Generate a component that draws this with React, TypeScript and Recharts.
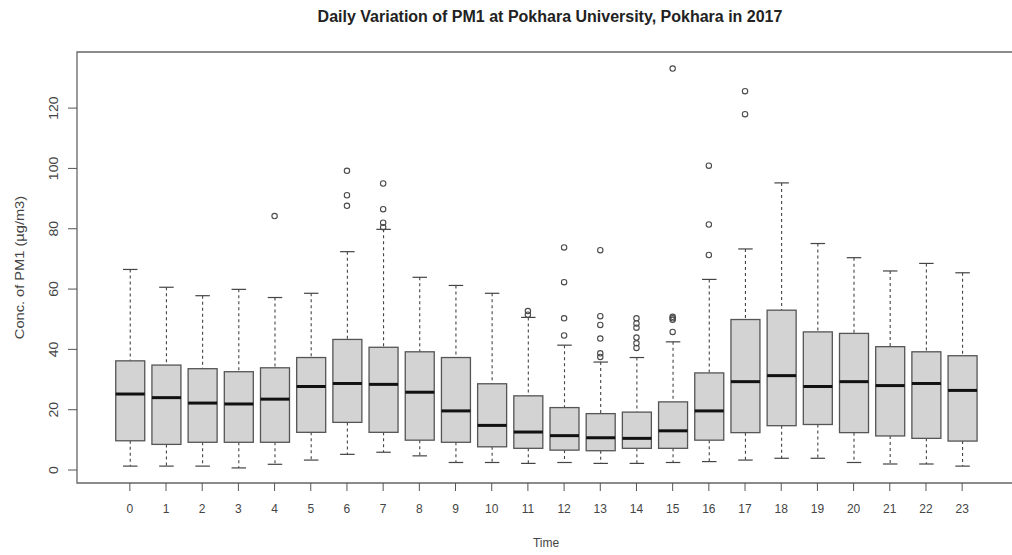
import React from 'react';
import { ComposedChart, Bar, Scatter, XAxis, YAxis, ReferenceArea } from 'recharts';

// hourly box statistics (R boxplot)
const hours = [0, 1, 2, 3, 4, 5, 6, 7, 8, 9, 10, 11, 12, 13, 14, 15, 16, 17, 18, 19, 20, 21, 22, 23];
const lowerWhisker = [1.3, 1.3, 1.3, 0.7, 1.9, 3.3, 5.2, 5.9, 4.7, 2.5, 2.5, 2.2, 2.5, 2.2, 2.2, 2.5, 2.8, 3.3, 3.9, 3.9, 2.5, 2.0, 2.0, 1.3];
const q1 = [9.7, 8.5, 9.2, 9.2, 9.2, 12.5, 15.8, 12.5, 9.9, 9.2, 7.7, 7.2, 6.6, 6.4, 7.2, 7.2, 9.9, 12.4, 14.7, 15.1, 12.4, 11.3, 10.5, 9.6];
const median = [25.2, 24.0, 22.2, 21.9, 23.5, 27.7, 28.7, 28.4, 25.8, 19.6, 14.8, 12.6, 11.4, 10.7, 10.5, 13.0, 19.6, 29.3, 31.3, 27.7, 29.3, 28.0, 28.7, 26.4];
const q3 = [36.2, 34.8, 33.6, 32.6, 33.9, 37.3, 43.3, 40.7, 39.2, 37.3, 28.6, 24.6, 20.7, 18.7, 19.2, 22.6, 32.2, 49.9, 53.0, 45.8, 45.3, 40.9, 39.2, 37.9];
const upperWhisker = [66.5, 60.6, 57.8, 59.9, 57.2, 58.6, 72.4, 79.8, 63.9, 61.2, 58.6, 50.6, 41.4, 35.8, 37.3, 42.5, 63.2, 73.3, 95.2, 75.1, 70.4, 66.0, 68.5, 65.4];

// outliers per hour: [hour, value]
const outliers: [number, number][] = [
  [4, 84.2],
  [6, 99.2], [6, 91.1], [6, 87.6],
  [7, 95.0], [7, 86.5], [7, 82.0], [7, 80.5],
  [11, 52.7], [11, 51.5],
  [12, 73.8], [12, 62.3], [12, 50.3], [12, 44.6],
  [13, 72.9], [13, 51.0], [13, 48.1], [13, 43.6], [13, 38.7], [13, 37.5],
  [14, 50.3], [14, 48.6], [14, 47.2], [14, 43.9], [14, 42.0], [14, 40.5],
  [15, 133.1], [15, 50.8], [15, 50.3], [15, 49.8], [15, 45.8],
  [16, 100.9], [16, 81.4], [16, 71.3],
  [17, 125.6], [17, 118.0],
];

const yTicks = [0, 20, 40, 60, 80, 100, 120];
const X_DOMAIN: [number, number] = [-1.46, 24.46];
const Y_DOMAIN: [number, number] = [-4.3, 138.6];

const FONT = '"Liberation Sans", Arial, sans-serif';

const boxData = hours.map((h, i) => ({
  hour: h,
  lo: lowerWhisker[i],
  q1: q1[i],
  med: median[i],
  q3: q3[i],
  hi: upperWhisker[i],
}));
const outlierData = outliers.map(([h, v]) => ({ hour: h, value: v }));

function BoxShape(props: any) {
  const { x, y, width, height, payload } = props;
  if (width == null || height == null) return null;
  const top = Math.min(y, y + height);
  const bottom = Math.max(y, y + height);
  const span = payload.hi - payload.lo;
  const px = (v: number) => bottom - ((v - payload.lo) / span) * (bottom - top);
  const cx = x + width / 2;
  const cap = width / 4;
  const yq1 = px(payload.q1);
  const yq3 = px(payload.q3);
  const ymed = px(payload.med);
  return (
    <g>
      <line x1={cx} x2={cx} y1={top} y2={yq3} stroke="#444" strokeWidth={1.1} strokeDasharray="3 3" />
      <line x1={cx} x2={cx} y1={yq1} y2={bottom} stroke="#444" strokeWidth={1.1} strokeDasharray="3 3" />
      <line x1={cx - cap} x2={cx + cap} y1={top} y2={top} stroke="#444" strokeWidth={1.2} />
      <line x1={cx - cap} x2={cx + cap} y1={bottom} y2={bottom} stroke="#444" strokeWidth={1.2} />
      <rect x={x} y={yq3} width={width} height={yq1 - yq3} fill="#d3d3d3" stroke="#555" strokeWidth={1.3} />
      <line x1={x} x2={x + width} y1={ymed} y2={ymed} stroke="#111" strokeWidth={3} />
    </g>
  );
}

function OutlierDot(props: any) {
  const { cx, cy } = props;
  return <circle cx={cx} cy={cy} r={2.7} fill="none" stroke="#4a4a4a" strokeWidth={1.1} />;
}

// rotated text, stretched a little along the axis like the source image
function VText({ x, y, size, children }: any) {
  return (
    <text
      x={0}
      y={0}
      transform={`translate(${x} ${y}) scale(1 1.17) rotate(-90)`}
      textAnchor="middle"
      fontSize={size}
      fill="#444"
      fontFamily={FONT}
    >
      {children}
    </text>
  );
}

function YTick(props: any) {
  const { x, y, payload } = props;
  return <VText x={x - 8} y={y} size={12}>{payload.value}</VText>;
}

function YLabel(props: any) {
  const { viewBox } = props;
  return <VText x={24} y={viewBox.y + viewBox.height / 2} size={12.5}>Conc. of PM1 (µg/m3)</VText>;
}

export default function App() {
  return (
    <div style={{ position: 'absolute', left: 0, top: 0, width: 1012, height: 555, overflow: 'hidden', background: '#fff', fontFamily: FONT }}>
      <div style={{ position: 'absolute', left: 250, width: 600, top: 8, textAlign: 'center', fontSize: 16, fontWeight: 'bold', color: '#222' }}>
        Daily Variation of PM1 at Pokhara University, Pokhara in 2017
      </div>
      <ComposedChart width={1020} height={555} data={boxData} margin={{ top: 52, right: 5, bottom: 0, left: 0 }}>
        <XAxis
          dataKey="hour"
          type="number"
          domain={X_DOMAIN}
          ticks={hours}
          interval={0}
          allowDataOverflow
          axisLine={false}
          tickSize={8}
          tickMargin={13}
          height={72}
          tick={{ fontSize: 12, fill: '#444', fontFamily: FONT }}
          tickLine={{ stroke: '#555' }}
          label={{ value: 'Time', position: 'insideBottom', offset: 8, fontSize: 12, fill: '#444', fontFamily: FONT }}
        />
        <YAxis
          type="number"
          domain={Y_DOMAIN}
          ticks={yTicks}
          allowDataOverflow
          axisLine={false}
          tickSize={9}
          width={77}
          tick={<YTick />}
          tickLine={{ stroke: '#555' }}
          label={<YLabel />}
        />
        <ReferenceArea x1={X_DOMAIN[0]} x2={X_DOMAIN[1]} y1={Y_DOMAIN[0]} y2={Y_DOMAIN[1]} fill="none" fillOpacity={0} stroke="#666" strokeWidth={1.3} />
        <Bar dataKey={(d: any) => [d.lo, d.hi]} barSize={29} shape={<BoxShape />} isAnimationActive={false} />
        <Scatter data={outlierData} dataKey="value" shape={<OutlierDot />} isAnimationActive={false} />
      </ComposedChart>
    </div>
  );
}
